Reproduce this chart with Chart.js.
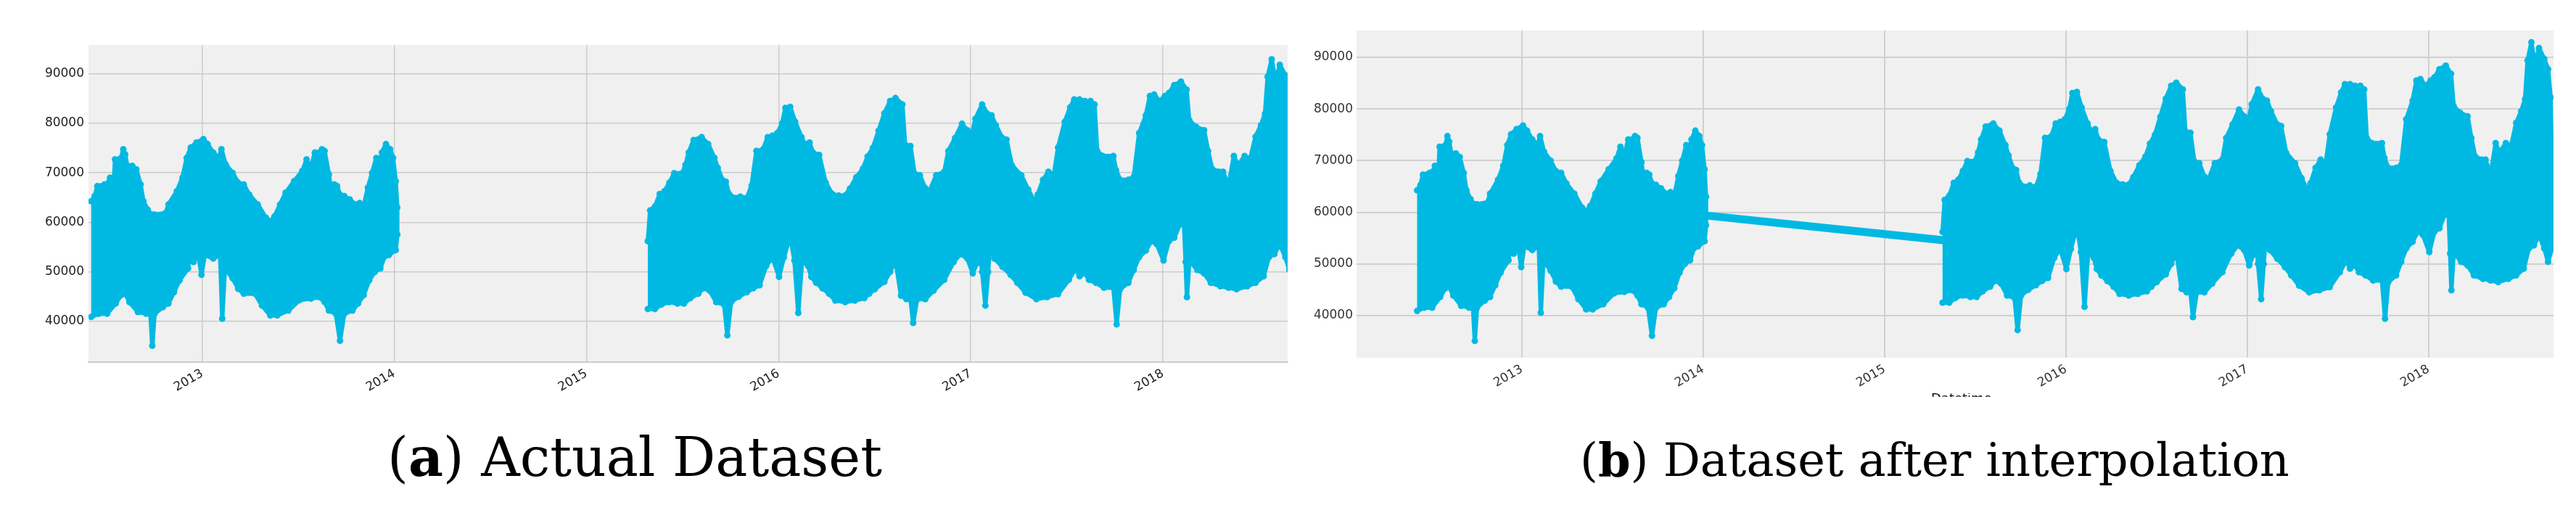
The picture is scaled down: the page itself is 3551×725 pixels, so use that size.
<!DOCTYPE html>
<html>
<head>
<meta charset="utf-8">
<script src="https://cdn.jsdelivr.net/npm/chart.js@4.4.1/dist/chart.umd.min.js"></script>
<style>
  html, body { margin: 0; padding: 0; background: #ffffff; }
  body { width: 3551px; height: 725px; position: relative; overflow: hidden; }
  canvas { position: absolute; top: 0; }
  .cap { position: absolute; font-family: "DejaVu Serif", serif; color: #000; white-space: nowrap; line-height: 1; }
  .xt { position: absolute; overflow: hidden; }
  .xt span { position: absolute; left: 0; font-family: "DejaVu Sans", sans-serif; font-size: 18px; line-height: 1; color: #111; white-space: nowrap; }
</style>
</head>
<body>
<canvas id="c1" width="1800" height="600" style="left:0px"></canvas>
<canvas id="c2" width="1751" height="600" style="left:1800px"></canvas>
<div id="capA" class="cap">(<b>a</b>) Actual Dataset</div>
<div id="capB" class="cap">(<b>b</b>) Dataset after interpolation</div>
<div class="xt" style="left:2662px; top:542px; width:90px; height:5px;"><span style="top:-2px">Datetime</span></div>
<script>
// ---------------- data (decimal years, demand values) ----------------
const yearTicks  = [2013, 2014, 2015, 2016, 2017, 2018];
const valueTicks = [40000, 50000, 60000, 70000, 80000, 90000];

// segment 1 : mid-2012 .. end of 2013  (upper envelope)
const seg1HighYear = [2012.422,2012.440,2012.454,2012.491,2012.512,2012.520,2012.541,2012.546,2012.578,2012.589,2012.599,2012.610,2012.636,2012.657,2012.679,2012.694,2012.716,2012.737,2012.752,2012.810,2012.824,2012.868,2012.897,2012.919,2012.940,2012.970,2013.006,2013.028,2013.057,2013.086,2013.100,2013.122,2013.158,2013.187,2013.216,2013.245,2013.289,2013.332,2013.354,2013.376,2013.405,2013.434,2013.478,2013.521,2013.543,2013.565,2013.586,2013.608,2013.623,2013.637,2013.659,2013.673,2013.688,2013.702,2013.717,2013.739,2013.768,2013.797,2013.819,2013.840,2013.862,2013.884,2013.906,2013.920,2013.935,2013.956,2013.978,2013.993,2014.007,2014.015];
const seg1High     = [64250,65270,67300,67640,68000,69000,69000,72700,73000,74750,73700,71400,71400,70700,67640,64250,62560,61550,61550,61900,63600,66300,69000,73000,75100,76100,76800,75800,74100,73000,74750,71700,70000,68000,67640,65600,63600,60900,60200,61200,63600,66000,68300,70400,72700,71000,74100,74100,74750,74400,69700,66000,67640,67300,65600,65300,64600,63600,63900,63250,67000,70000,73000,71700,74100,75800,74750,73000,68300,63000];
// segment 1 (lower envelope)
const seg1LowYear  = [2012.422,2012.462,2012.505,2012.549,2012.578,2012.599,2012.621,2012.665,2012.708,2012.730,2012.740,2012.752,2012.795,2012.824,2012.853,2012.882,2012.926,2012.933,2012.955,2012.977,2012.996,2013.013,2013.057,2013.093,2013.104,2013.118,2013.158,2013.187,2013.216,2013.274,2013.311,2013.354,2013.390,2013.448,2013.507,2013.565,2013.608,2013.637,2013.659,2013.695,2013.717,2013.739,2013.782,2013.811,2013.840,2013.869,2013.898,2013.927,2013.949,2013.971,2014.007,2014.015];
const seg1Low      = [40900,41550,41550,43600,45300,45600,43900,41900,41550,41550,35100,41550,42900,43600,45900,48300,50700,52700,52000,54100,49400,53400,52700,53400,40550,50700,48700,46600,45600,45600,43200,41200,41200,42200,44300,44600,44900,43900,42200,41550,36100,41550,42200,43600,45300,48300,50000,50700,53100,53400,54400,57500];

// segment 2 : spring 2015 .. late 2018 (upper envelope)
const seg2HighYear = [2015.319,2015.331,2015.356,2015.381,2015.406,2015.431,2015.456,2015.498,2015.515,2015.532,2015.557,2015.599,2015.633,2015.666,2015.683,2015.708,2015.725,2015.742,2015.775,2015.800,2015.834,2015.859,2015.884,2015.918,2015.943,2015.968,2015.993,2016.018,2016.035,2016.060,2016.086,2016.119,2016.136,2016.161,2016.178,2016.211,2016.245,2016.279,2016.312,2016.346,2016.371,2016.404,2016.438,2016.463,2016.490,2016.520,2016.550,2016.580,
  2016.608,2016.644,2016.658,2016.686,2016.707,2016.735,2016.763,2016.785,2016.820,2016.862,2016.883,2016.918,2016.954,2016.982,2017.003,2017.024,2017.059,2017.087,2017.108,2017.130,2017.165,2017.186,2017.214,2017.263,2017.299,2017.334,2017.348,2017.376,2017.404,2017.432,2017.454,2017.489,2017.517,2017.538,2017.566,2017.594,2017.608,2017.623,2017.644,2017.658,2017.686,2017.742,2017.756,2017.777,2017.820,2017.848,2017.876,2017.911,2017.932,2017.954,2017.982,2018.010,2018.031,2018.059,2018.094,2018.123,2018.137,2018.172,2018.214,2018.235,2018.256,2018.292,2018.313,2018.341,2018.369,2018.390,2018.425,2018.454,2018.482,2018.510,2018.531,2018.545,2018.566,2018.587,2018.608,2018.637,2018.658,2018.672,2018.679];
const seg2High     = [56200,62400,63200,65700,66300,68000,69900,69900,71600,74100,76600,77200,75800,73000,71000,68500,68200,65700,64900,65200,64900,67400,74400,74700,77200,77500,78000,80000,83100,83300,80300,77200,75800,76100,74100,73600,68000,65700,65400,65400,66800,69100,70800,73300,75000,78500,82000,84500,
  85100,83800,75700,75400,69900,69500,66900,66300,69500,70200,74400,77000,79900,78600,77300,80900,83800,81900,81600,79600,77000,76700,71500,69500,66600,64000,65600,68600,70200,69500,75100,80300,83200,84800,84800,84500,83200,84500,83800,74400,73400,73400,70500,68600,68600,69200,78000,81600,85500,85800,84500,85500,86100,87700,88400,86800,80600,79300,78600,74400,70800,70200,70200,67300,73400,71500,73400,72800,77300,79600,81900,89400,92900,88400,91800,89700,87700,82200,68600];
// segment 2 (lower envelope)
const seg2LowYear  = [2015.319,2015.356,2015.389,2015.431,2015.473,2015.507,2015.540,2015.582,2015.607,2015.641,2015.675,2015.716,2015.733,2015.752,2015.792,2015.834,2015.867,2015.901,2015.935,2015.968,2016.002,2016.027,2016.060,2016.082,2016.102,2016.122,2016.153,2016.170,2016.195,2016.228,2016.262,2016.295,2016.346,2016.396,2016.446,2016.471,2016.500,2016.550,2016.580,
  2016.608,2016.637,2016.665,2016.686,2016.700,2016.721,2016.763,2016.806,2016.862,2016.911,2016.946,2016.982,2017.010,2017.031,2017.045,2017.059,2017.076,2017.090,2017.101,2017.123,2017.165,2017.207,2017.242,2017.285,2017.341,2017.397,2017.454,2017.510,2017.545,2017.566,2017.594,2017.615,2017.651,2017.693,2017.742,2017.759,2017.777,2017.820,2017.848,2017.876,2017.911,2017.939,2017.968,2018.003,2018.031,2018.059,2018.087,2018.108,2018.118,2018.125,2018.137,2018.151,2018.179,2018.214,2018.249,2018.299,2018.341,2018.383,2018.439,2018.482,2018.524,2018.552,2018.580,2018.608,2018.637,2018.658,2018.679];
const seg2Low      = [42500,42500,43400,43900,43600,43600,44700,45600,46700,46200,43900,43400,37200,43900,45000,45900,46700,47300,51200,52900,49000,52900,57300,52300,41700,52300,51200,49000,47800,46700,45600,44200,43900,44200,44700,45600,46500,48000,50000,
  52300,45200,44500,44500,39700,44500,44500,46200,48400,52000,53600,52700,49700,51700,55600,50000,43200,50000,55600,52700,51000,49400,47800,45800,44500,44900,45500,48400,50700,49100,49700,48400,47800,46800,46800,39400,46500,47800,50400,53000,54300,56200,55600,52300,56200,56900,59500,61000,52000,44900,52000,51700,50400,49700,47800,47100,46800,46500,47100,47800,49100,53000,53600,55600,53000,50400,53000];

// interpolated bridge drawn in panel (b)
const interpYear  = [2014.010, 2015.320];
const interpValue = [59400, 54600];

// ---------------- styling ----------------
const CYAN = '#00B9E3';

function band(hx, hy, lx, ly) {
  const up = hx.map((x, i) => ({x: x, y: hy[i]}));
  const lo = lx.map((x, i) => ({x: x, y: ly[i]})).reverse();
  return up.concat(lo);
}

const bgPlugin = {
  id: 'plotBg',
  beforeDraw(chart) {
    const a = chart.chartArea, ctx = chart.ctx;
    ctx.save();
    ctx.fillStyle = '#f0f0f0';
    ctx.fillRect(a.left, a.top, a.right - a.left, a.bottom - a.top);
    ctx.restore();
  }
};

function bandDataset(points) {
  return {
    data: points, showLine: true, fill: 'shape',
    backgroundColor: CYAN, borderColor: CYAN, borderWidth: 6,
    borderJoinStyle: 'round', borderCapStyle: 'round',
    pointRadius: 4.5, pointBorderWidth: 0, pointBackgroundColor: CYAN,
    tension: 0, clip: 0
  };
}

function makeChart(id, cfg) {
  const datasets = [
    bandDataset(band(seg1HighYear, seg1High, seg1LowYear, seg1Low)),
    bandDataset(band(seg2HighYear, seg2High, seg2LowYear, seg2Low))
  ];
  if (cfg.interp) {
    datasets.push({
      data: interpYear.map((x, i) => ({x: x, y: interpValue[i]})),
      showLine: true, fill: false, borderColor: CYAN, borderWidth: 11,
      borderCapStyle: 'round', pointRadius: 0, clip: 0
    });
  }
  return new Chart(document.getElementById(id), {
    type: 'scatter',
    data: { datasets: datasets },
    plugins: [bgPlugin],
    options: {
      responsive: false, animation: false, events: [],
      layout: { padding: { top: cfg.padTop, right: cfg.padRight, left: 0, bottom: 0 } },
      plugins: { legend: { display: false }, tooltip: { enabled: false } },
      scales: {
        x: {
          type: 'linear', min: cfg.xMin, max: cfg.xMax,
          afterBuildTicks: s => { s.ticks = yearTicks.map(v => ({value: v})); },
          afterFit: s => { s.height = cfg.xHeight; },
          grid: { color: cfg.gridColor, lineWidth: cfg.gridWidth, drawTicks: false },
          border: { display: cfg.bottomBorder, color: '#cbcbcb', width: 2 },
          ticks: { minRotation: 30, maxRotation: 30, padding: 6, autoSkip: false,
                   color: cfg.tickColor, font: { family: 'DejaVu Sans', size: 17 },
                   callback: v => String(v) }
        },
        y: {
          type: 'linear', min: cfg.yMin, max: cfg.yMax,
          afterBuildTicks: s => { s.ticks = valueTicks.map(v => ({value: v})); },
          afterFit: s => { s.width = cfg.yWidth; },
          grid: { color: cfg.gridColor, lineWidth: cfg.gridWidth, drawTicks: false },
          border: { display: false },
          ticks: { padding: cfg.yPad, color: cfg.tickColor, font: { family: 'DejaVu Sans', size: 17 },
                   callback: v => String(v) }
        }
      }
    }
  });
}

makeChart('c1', { xMin: 2012.408, xMax: 2018.649, yMin: 31800, yMax: 95800,
  padTop: 62, padRight: 25, yWidth: 122, xHeight: 101, yPad: 6,
  gridColor: '#cbcbcb', gridWidth: 1.5, bottomBorder: true, tickColor: '#222', interp: false });

makeChart('c2', { xMin: 2012.088, xMax: 2018.688, yMin: 31850, yMax: 95200,
  padTop: 42, padRight: 31, yWidth: 70, xHeight: 107, yPad: 5,
  gridColor: '#d0d0d0', gridWidth: 2, bottomBorder: false, tickColor: '#333', interp: true });

// captions: fit font size to the measured caption widths
function placeCaption(id, left, right, baseline) {
  const el = document.getElementById(id);
  el.style.fontSize = '60px';
  const w = el.getBoundingClientRect().width;
  const fs = 60 * (right - left) / w;
  el.style.fontSize = fs.toFixed(2) + 'px';
  el.style.left = left + 'px';
  el.style.top = (baseline - 0.846 * fs).toFixed(1) + 'px';
}
placeCaption('capA', 534, 1216, 656);
placeCaption('capB', 2178, 3156, 656);
</script>
</body>
</html>
